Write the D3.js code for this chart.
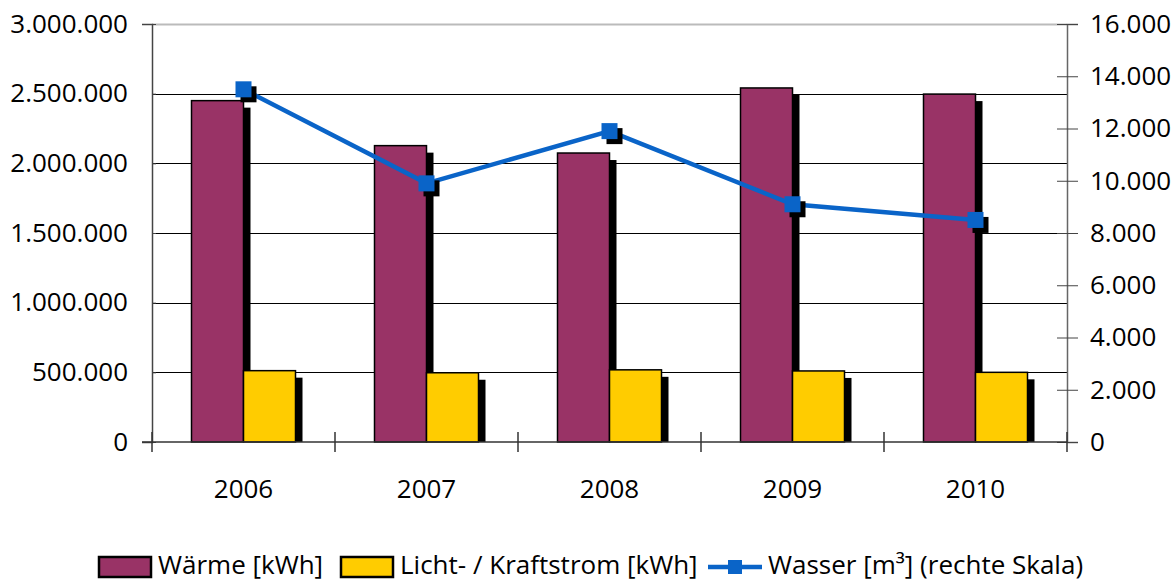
<!DOCTYPE html>
<html><head><meta charset="utf-8">
<script src="https://cdn.jsdelivr.net/npm/d3@7"></script>
<style>body{margin:0;background:#fff}svg{display:block}text{font-family:"Open Sans",sans-serif;fill:#000}</style>
</head><body><svg id="c" width="1174" height="582"></svg>
<script>
const years = ["2006","2007","2008","2009","2010"];
const waerme = [2450000, 2127000, 2074000, 2541000, 2497000];
const strom = [512000, 497000, 518000, 510000, 500000];
const wasser = [13500, 9900, 11900, 9100, 8500];
const leftTicks = [0,500000,1000000,1500000,2000000,2500000,3000000];
const rightTicks = [0,2000,4000,6000,8000,10000,12000,14000,16000];
const seriesNames = ["Wärme [kWh]","Licht- / Kraftstrom [kWh]","Wasser [m³] (rechte Skala)"];
const colors = ["#993366","#FFCC00","#0a64c8"];

const svg = d3.select("#c");
const L=152, R=1067, T=24, B=442;
const x = d3.scaleBand().domain(years).range([L,R]);
const yL = d3.scaleLinear().domain([0,3000000]).range([B,T]);
const yR = d3.scaleLinear().domain([0,16000]).range([B,T]);
const fmt = v => d3.format(",")(v).replace(/,/g,".");
const bw = 52;
const fs = 26;

// gridlines
svg.append("g").selectAll("line").data(leftTicks.filter(d=>d>0)).join("line")
  .attr("x1",L).attr("x2",R).attr("y1",d=>Math.round(yL(d))+0.5).attr("y2",d=>Math.round(yL(d))+0.5)
  .attr("stroke",d=>d===3000000?"#bbb":"#000").attr("stroke-width",d=>d===3000000?2:1);

// left axis
const gl = svg.append("g").attr("transform",`translate(${L},0)`)
  .call(d3.axisLeft(yL).tickValues(leftTicks).tickFormat(fmt).tickSize(10).tickPadding(14));
gl.select(".domain").attr("stroke","#444").attr("stroke-width",1.5);
gl.selectAll(".tick line").attr("stroke","#444").attr("x2",4);
gl.selectAll("text").style("font-size",fs+"px").attr("fill","#000");

// right axis
const gr = svg.append("g").attr("transform",`translate(${R},0)`)
  .call(d3.axisRight(yR).tickValues(rightTicks).tickFormat(fmt).tickSize(11).tickPadding(12));
gr.select(".domain").attr("stroke","#666").attr("stroke-width",1.5);
gr.selectAll(".tick line").attr("stroke","#444").attr("x1",-10);
gr.selectAll("text").style("font-size",fs+"px").attr("fill","#000");

// bar shadows
const off=7;
const bars = svg.append("g");
const sets = [{v:waerme,c:colors[0],dx:-bw},{v:strom,c:colors[1],dx:0}];
sets.forEach(s=>{
  bars.append("g").selectAll("rect").data(years).join("rect")
    .attr("x",(d)=>x(d)+x.bandwidth()/2+s.dx+off)
    .attr("y",(d,i)=>yL(s.v[i])+off).attr("width",bw)
    .attr("height",(d,i)=>B-yL(s.v[i])-off).attr("fill","#000");
});
sets.forEach(s=>{
  bars.append("g").selectAll("rect").data(years).join("rect")
    .attr("x",(d)=>x(d)+x.bandwidth()/2+s.dx)
    .attr("y",(d,i)=>yL(s.v[i])).attr("width",bw)
    .attr("height",(d,i)=>B-yL(s.v[i])).attr("fill",s.c)
    .attr("stroke","#000").attr("stroke-width",1.5);
});

// bottom axis
const gb = svg.append("g").attr("transform",`translate(0,${B})`)
  .call(d3.axisBottom(x).tickSize(0).tickPadding(38));
gb.select(".domain").attr("stroke","#333").attr("stroke-width",1.5).attr("d",`M${L-10},0H${R}`);
gb.selectAll("text").style("font-size",fs+"px").attr("fill","#000");
svg.append("g").selectAll("line").data(years.concat(["end"])).join("line")
  .attr("x1",(d,i)=>L+i*x.bandwidth()).attr("x2",(d,i)=>L+i*x.bandwidth())
  .attr("y1",B-10).attr("y2",B+10).attr("stroke","#333").attr("stroke-width",1.5);

// line
const cx = d=>x(d)+x.bandwidth()/2;
svg.append("path").datum(years).attr("fill","none").attr("stroke",colors[2]).attr("stroke-width",4.5)
  .attr("d",d3.line().x(cx).y((d,i)=>yR(wasser[i])));
const ms=16;
svg.append("g").selectAll("rect").data(years).join("rect")
  .attr("x",d=>cx(d)-ms/2+5).attr("y",(d,i)=>yR(wasser[i])-ms/2+5).attr("width",ms).attr("height",ms).attr("fill","#000");
svg.append("g").selectAll("rect").data(years).join("rect")
  .attr("x",d=>cx(d)-ms/2).attr("y",(d,i)=>yR(wasser[i])-ms/2).attr("width",ms).attr("height",ms).attr("fill",colors[2]);

// legend
const lg = svg.append("g");
const ly = 566;
const items = [{x:98,t:0},{x:340,t:1},{x:708,t:2}];
items.forEach(it=>{
  if(it.t<2){
    lg.append("rect").attr("x",it.x+1).attr("y",ly-9).attr("width",52).attr("height",20)
      .attr("fill",colors[it.t]).attr("stroke","#000").attr("stroke-width",2.5);
  } else {
    lg.append("line").attr("x1",it.x).attr("x2",it.x+54).attr("y1",ly+1).attr("y2",ly+1).attr("stroke",colors[2]).attr("stroke-width",4.5);
    lg.append("rect").attr("x",it.x+27-7).attr("y",ly-6).attr("width",14).attr("height",14).attr("fill",colors[2]);
  }
  lg.append("text").attr("x",it.x+60).attr("y",ly).attr("dy","0.3em").style("font-size",fs+"px").text(seriesNames[it.t]);
});
</script></body></html>
